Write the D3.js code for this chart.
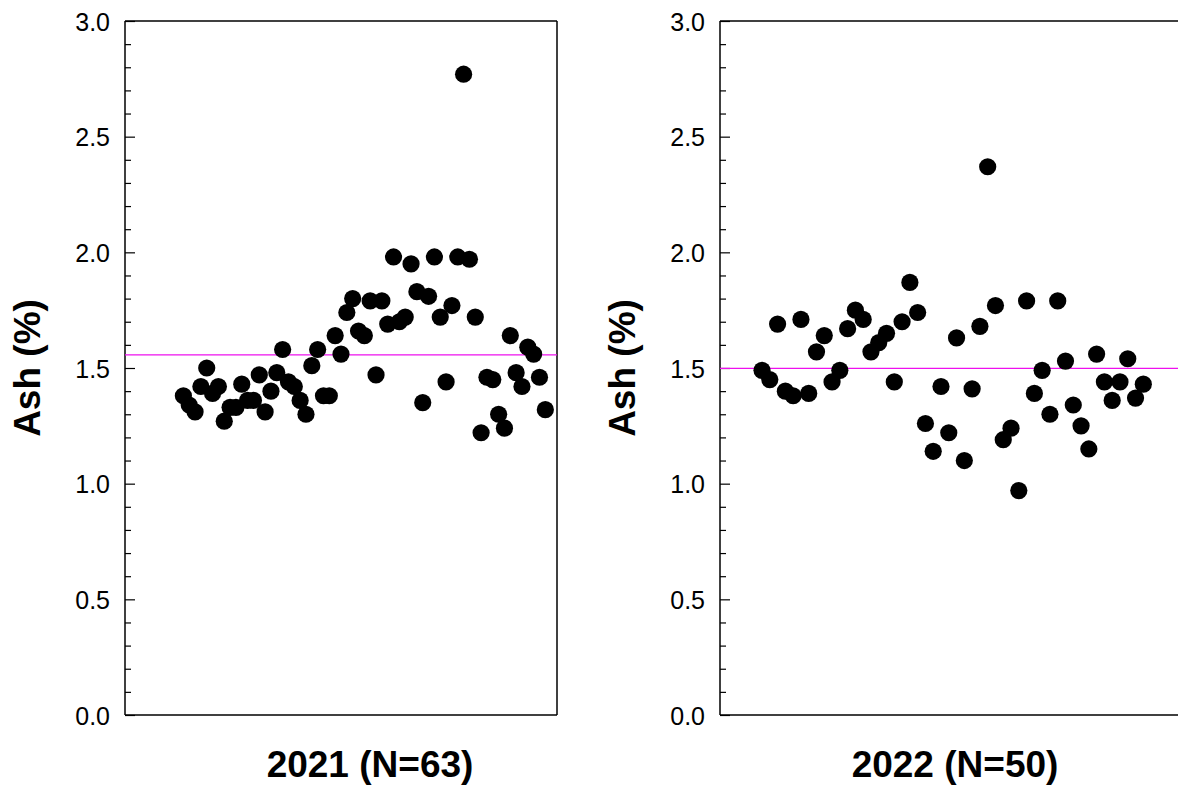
<!DOCTYPE html>
<html lang="en">
<head>
<meta charset="UTF-8">
<title>Ash content by year</title>
<script src="https://d3js.org/d3.v7.min.js"></script>
<style>
body {
  margin: 0px;
  overflow: hidden;
  background: #fff;
}
text {
  font-family: "Liberation Sans", Arial, sans-serif;
}
.tick text {
  font-size: 25px;
  fill: #000;
}
.axis-title {
  font-size: 37px;
  font-weight: bold;
  fill: #000;
}
</style>
</head>
<body>
<svg width="1178" height="786"></svg>
<script>
// ash (%) per sample, in sample order
const ash2021 = [1.38, 1.34, 1.31, 1.42, 1.50, 1.39, 1.42, 1.27, 1.33, 1.33,
  1.43, 1.36, 1.36, 1.47, 1.31, 1.40, 1.48, 1.58, 1.44, 1.42,
  1.36, 1.30, 1.51, 1.58, 1.38, 1.38, 1.64, 1.56, 1.74, 1.80,
  1.66, 1.64, 1.79, 1.47, 1.79, 1.69, 1.98, 1.70, 1.72, 1.95,
  1.83, 1.35, 1.81, 1.98, 1.72, 1.44, 1.77, 1.98, 2.77, 1.97,
  1.72, 1.22, 1.46, 1.45, 1.30, 1.24, 1.64, 1.48, 1.42, 1.59,
  1.56, 1.46, 1.32];

const ash2022 = [1.49, 1.45, 1.69, 1.40, 1.38, 1.71, 1.39, 1.57, 1.64, 1.44,
  1.49, 1.67, 1.75, 1.71, 1.57, 1.61, 1.65, 1.44, 1.70, 1.87,
  1.74, 1.26, 1.14, 1.42, 1.22, 1.63, 1.10, 1.41, 1.68, 2.37,
  1.77, 1.19, 1.24, 0.97, 1.79, 1.39, 1.49, 1.30, 1.79, 1.53,
  1.34, 1.25, 1.15, 1.56, 1.44, 1.36, 1.44, 1.54, 1.37, 1.43];

const yTicks = [0, 0.5, 1.0, 1.5, 2.0, 2.5, 3.0];
const yMinorTicks = d3.range(1, 30).map(d => d / 10).filter(d => Math.round(d * 10) % 5 !== 0);
const yTitle = 'Ash (%)';

const svg = d3.select('svg');

const panel = (props) => {
  const { data, title, left, right, xDomain, titleX, rightBorder } = props;
  const top = 21, bottom = 715;

  const x = d3.scaleLinear().domain(xDomain).range([left, right]);
  const y = d3.scaleLinear().domain([0, 3]).range([bottom, top]);

  const g = svg.append('g');

  // frame
  g.append('line')
    .attr('x1', left).attr('x2', right)
    .attr('y1', top).attr('y2', top)
    .attr('stroke', '#000').attr('stroke-width', 1.5);
  g.append('line')
    .attr('x1', left).attr('x2', right)
    .attr('y1', bottom).attr('y2', bottom)
    .attr('stroke', '#000').attr('stroke-width', 1.5);
  if (rightBorder) {
    g.append('line')
      .attr('x1', right).attr('x2', right)
      .attr('y1', top).attr('y2', bottom)
      .attr('stroke', '#000').attr('stroke-width', 1.5);
  }

  // minor ticks, pointing inward
  g.append('g')
    .attr('transform', `translate(${left},0)`)
    .call(d3.axisLeft(y).tickValues(yMinorTicks).tickSize(-6).tickFormat(''))
    .call(s => s.select('.domain').remove())
    .selectAll('line').attr('stroke-width', 1.2);

  // major ticks and labels
  const yAxisG = g.append('g')
    .attr('transform', `translate(${left},0)`)
    .call(d3.axisLeft(y).tickValues(yTicks).tickSize(-10).tickPadding(15).tickFormat(d3.format('.1f')));
  yAxisG.select('.domain')
    .attr('d', `M0,${top}V${bottom}`)
    .attr('stroke-width', 1.5);
  yAxisG.selectAll('.tick line').attr('stroke-width', 1.2);
  yAxisG.selectAll('.tick text').attr('dy', '0.36em');

  // mean line
  const mean = d3.mean(data);
  g.append('line')
    .attr('x1', left).attr('x2', right)
    .attr('y1', y(mean)).attr('y2', y(mean))
    .attr('stroke', '#ee10ee')
    .attr('stroke-width', 1.3);

  g.selectAll('circle').data(data)
    .enter().append('circle')
      .attr('cx', (d, i) => x(i))
      .attr('cy', d => y(d))
      .attr('r', 8.6)
      .attr('fill', '#000');

  g.append('text')
    .attr('class', 'axis-title')
    .attr('transform', `translate(${left - 85},${(top + bottom) / 2}) rotate(-90)`)
    .attr('text-anchor', 'middle')
    .text(yTitle);

  g.append('text')
    .attr('class', 'axis-title')
    .attr('x', titleX)
    .attr('y', 777)
    .attr('text-anchor', 'middle')
    .text(title);
};

panel({
  data: ash2021,
  title: `2021 (N=${ash2021.length})`,
  left: 125,
  right: 557,
  xDomain: [-10, 64],
  titleX: 370,
  rightBorder: true
});

panel({
  data: ash2022,
  title: `2022 (N=${ash2022.length})`,
  left: 720,
  right: 1190,
  xDomain: [-5.4, 55],
  titleX: 955,
  rightBorder: false
});
</script>
</body>
</html>
